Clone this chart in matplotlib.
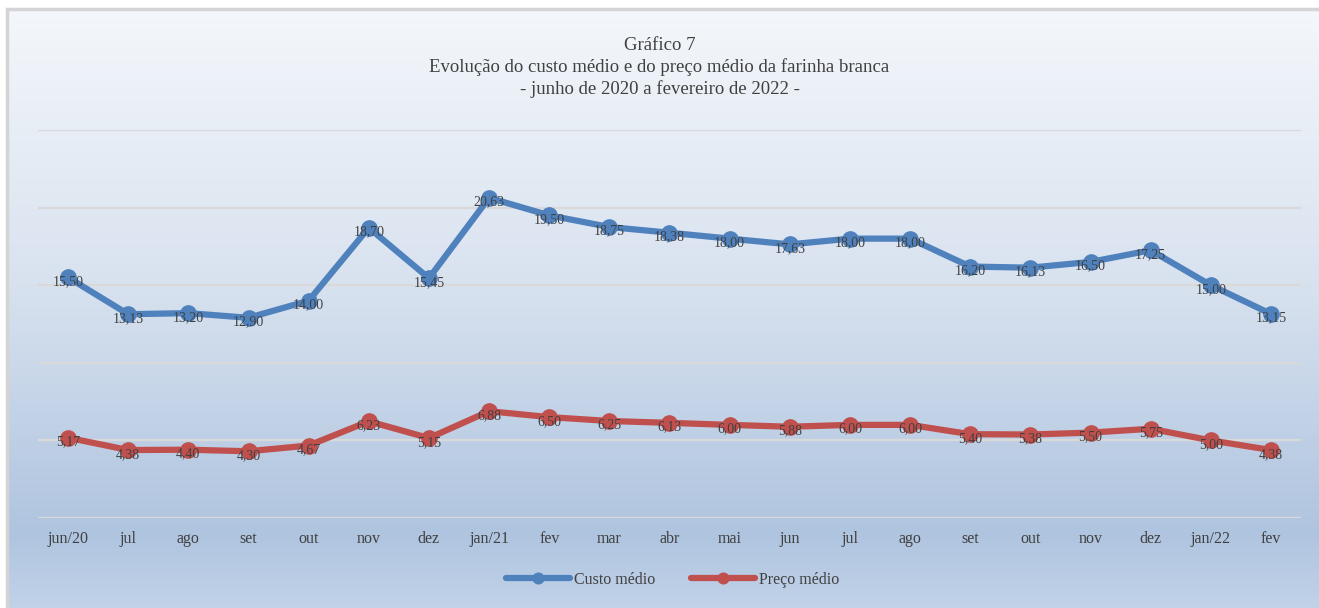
import matplotlib
matplotlib.use("Agg")
import matplotlib.pyplot as plt
import numpy as np
from matplotlib.colors import LinearSegmentedColormap
from matplotlib.patches import Rectangle

plt.rcParams["font.family"] = ["Liberation Serif", "DejaVu Serif"]

months = ["jun/20", "jul", "ago", "set", "out", "nov", "dez", "jan/21", "fev",
          "mar", "abr", "mai", "jun", "jul", "ago", "set", "out", "nov", "dez",
          "jan/22", "fev"]
custo = [15.50, 13.13, 13.20, 12.90, 14.00, 18.70, 15.45, 20.63, 19.50, 18.75,
         18.38, 18.00, 17.63, 18.00, 18.00, 16.20, 16.13, 16.50, 17.25, 15.00,
         13.15]
preco = [5.17, 4.38, 4.40, 4.30, 4.67, 6.23, 5.15, 6.88, 6.50, 6.25, 6.13,
         6.00, 5.88, 6.00, 6.00, 5.40, 5.38, 5.50, 5.75, 5.00, 4.38]

title_lines = ["Gráfico 7",
               "Evolução do custo médio e do preço médio da farinha branca",
               "- junho de 2020 a fevereiro de 2022 -"]

blue = "#4f81bd"
red = "#c0504d"
text_col = "#404040"

fig = plt.figure(figsize=(13.19, 6.08), dpi=100)
fig.patch.set_facecolor("white")

# gradient chart area background, right and bottom edges run off the image
bx0, by1 = 7 / 1319, 1 - 9 / 608
bg = fig.add_axes([bx0, -0.02, 1.02 - bx0, by1 + 0.02], zorder=0)
cmap = LinearSegmentedColormap.from_list(
    "bg", [(0.0, "#f4f7fb"), (0.45, "#d8e2ef"), (0.86, "#afc4df"), (1.0, "#c4d5ea")])
grad = np.linspace(0, 1, 256).reshape(-1, 1)
bg.imshow(grad, cmap=cmap, aspect="auto", extent=[0, 1, 0, 1], origin="upper")
bg.add_patch(Rectangle((0, 0), 1, 1, fill=False, edgecolor="#d4d4d4",
                       linewidth=2.5, transform=bg.transAxes, clip_on=False))
bg.set_axis_off()

ax = fig.add_axes([38 / 1319, 1 - 518 / 608, (1301 - 38) / 1319, (518 - 130) / 608],
                  zorder=1)
ax.patch.set_alpha(0)
x = np.arange(len(months))
ax.set_xlim(-0.5, len(months) - 0.5)
ax.set_ylim(0, 25)
ax.set_yticks(np.arange(0, 26, 5))
ax.yaxis.grid(True, color="#d9d9d9", linewidth=1.6)
ax.set_axisbelow(True)
ax.tick_params(axis="y", left=False, labelleft=False)
ax.tick_params(axis="x", bottom=False, labelsize=11.5, labelcolor=text_col, pad=6)
ax.set_xticks(x)
ax.set_xticklabels(months)
for s in ax.spines.values():
    s.set_visible(False)

l1, = ax.plot(x, custo, color=blue, linewidth=4.5, marker="o", markersize=11,
              label="Custo médio", solid_capstyle="round")
l2, = ax.plot(x, preco, color=red, linewidth=4.5, marker="o", markersize=11,
              label="Preço médio", solid_capstyle="round")

for xi, v in zip(x, custo):
    ax.annotate(f"{v:.2f}".replace(".", ","), (xi, v), xytext=(0, -3),
                textcoords="offset points", ha="center", va="center",
                fontsize=10, color=text_col)
for xi, v in zip(x, preco):
    ax.annotate(f"{v:.2f}".replace(".", ","), (xi, v), xytext=(0, -3),
                textcoords="offset points", ha="center", va="center",
                fontsize=10, color=text_col)

for i, line in enumerate(title_lines):
    fig.text(0.5, 1 - (45 + 22 * i) / 608, line, ha="center", va="center",
             fontsize=13.5, color=text_col)

fig.legend(handles=[l1, l2], loc="center", bbox_to_anchor=(0.51, 1 - 580 / 608),
           ncol=2, frameon=False, fontsize=11.5, labelcolor=text_col,
           handlelength=4, columnspacing=2.2, handletextpad=0.3, markerscale=0.7)

fig.savefig("out.png", dpi=100)
